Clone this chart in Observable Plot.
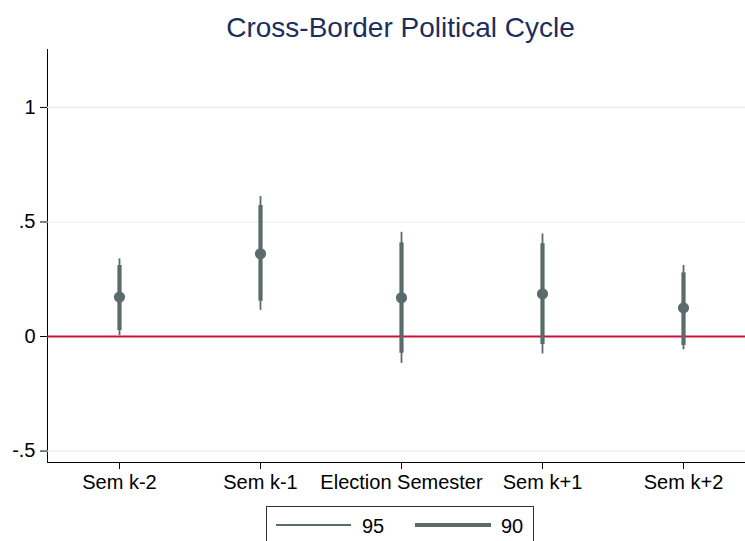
<!DOCTYPE html>
<html>
<head>
<meta charset="utf-8">
<script src="https://cdn.jsdelivr.net/npm/d3@7"></script>
<script src="https://cdn.jsdelivr.net/npm/@observablehq/plot@0.6"></script>
<style>
  html, body { margin: 0; padding: 0; background: #fff; overflow: hidden; }
  #wrap { position: relative; width: 745px; height: 541px; font-family: "Liberation Sans", Arial, sans-serif; }
  #title { position: absolute; left: 0; width: 801px; top: 12px; text-align: center; font-size: 28px; color: #1c2e5c; line-height: 32px; white-space: nowrap; }
  #chart { position: absolute; left: 0; top: 0; }
  #legend { position: absolute; left: 266px; top: 506px; width: 266px; height: 44px; border: 1px solid #333; background: #fff; }
</style>
</head>
<body>
<div id="wrap">
  <div id="chart"></div>
  <div id="title">Cross-Border Political Cycle</div>
  <div id="legend"></div>
</div>
<script>
const categories = ["Sem k-2", "Sem k-1", "Election Semester", "Sem k+1", "Sem k+2"];
const estimates = [0.172, 0.361, 0.169, 0.186, 0.125];
const lo95 = [0.004, 0.114, -0.117, -0.076, -0.058];
const hi95 = [0.339, 0.611, 0.455, 0.448, 0.310];
const lo90 = [0.026, 0.154, -0.073, -0.035, -0.039];
const hi90 = [0.310, 0.572, 0.409, 0.405, 0.278];
const yTicks = [-0.5, 0, 0.5, 1];
const gridValues = [-0.5, 0.5, 1];
const legendLabels = ["95", "90"];

const rows = categories.map((c, i) => ({
  cat: c, est: estimates[i], lo95: lo95[i], hi95: hi95[i], lo90: lo90[i], hi90: hi90[i]
}));

const markerColor = "#5b6b6b";
const fmt = d => d === 0 ? "0" : String(d).replace("0.", ".");

const chart = Plot.plot({
  width: 745,
  height: 500,
  marginLeft: 47,
  marginRight: -9,
  marginTop: 49,
  marginBottom: 38,
  style: { fontFamily: "'Liberation Sans', Arial, sans-serif", fontSize: "20px", color: "#000", background: "transparent" },
  x: { type: "point", domain: categories, padding: 0.5, tickSize: 7, tickPadding: 5, label: null, line: true },
  y: { domain: [-0.55, 1.253], ticks: yTicks, tickFormat: fmt, tickSize: 7, tickPadding: 5, label: null, line: true },
  marks: [
    Plot.ruleY(gridValues, { stroke: "#ebebeb", strokeWidth: 1.2 }),
    Plot.ruleY([0], { stroke: "#c8133b", strokeWidth: 2 }),
    Plot.ruleX(rows, { x: "cat", y1: "lo95", y2: "hi95", stroke: markerColor, strokeWidth: 1.8 }),
    Plot.ruleX(rows, { x: "cat", y1: "lo90", y2: "hi90", stroke: markerColor, strokeWidth: 4.2 }),
    Plot.dot(rows, { x: "cat", y: "est", r: 5.6, fill: markerColor, stroke: "none" })
  ]
});
chart.querySelectorAll("[aria-label$='axis'] path, [aria-label$='axis'] line").forEach(e => e.setAttribute("stroke", "#444"));
document.getElementById("chart").appendChild(chart);

// Legend
const lsvg = d3.select("#legend").append("svg").attr("width", 266).attr("height", 44)
  .style("font-family", "'Liberation Sans', Arial, sans-serif").style("font-size", "20px");
const items = [
  { label: legendLabels[0], x1: 9, x2: 84, w: 1.8, tx: 95 },
  { label: legendLabels[1], x1: 148, x2: 224, w: 4.2, tx: 234 }
];
items.forEach(it => {
  lsvg.append("line").attr("x1", it.x1).attr("x2", it.x2).attr("y1", 18).attr("y2", 18)
    .attr("stroke", markerColor).attr("stroke-width", it.w);
  lsvg.append("text").attr("x", it.tx).attr("y", 26).text(it.label);
});
</script>
</body>
</html>
